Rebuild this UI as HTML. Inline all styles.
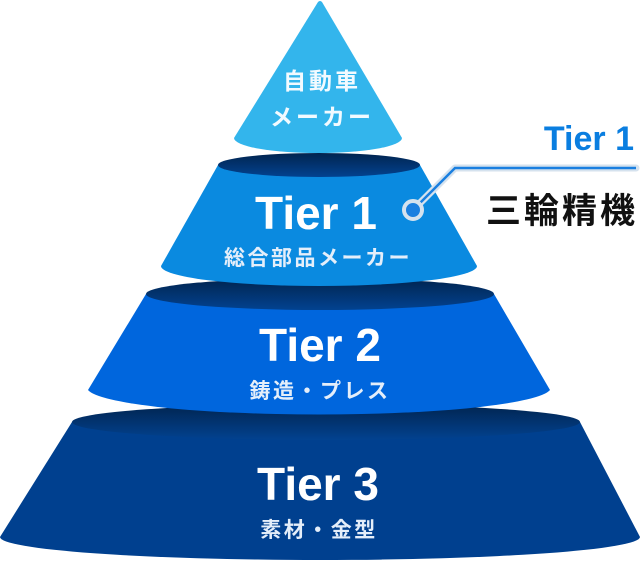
<!DOCTYPE html>
<html><head><meta charset="utf-8"><style>
html,body{margin:0;padding:0;background:#fff;width:640px;height:564px;overflow:hidden}
svg{display:block}
text{font-family:"Liberation Sans","Noto Sans CJK JP",sans-serif}
</style></head><body>
<svg width="640" height="564" viewBox="0 0 640 564" xmlns="http://www.w3.org/2000/svg">
<defs>
<linearGradient id="lid" x1="0" y1="0" x2="0" y2="1">
<stop offset="0" stop-color="#01244f"/><stop offset="1" stop-color="#024290"/>
</linearGradient>
</defs>
<path d="M72,422 L0,537 A320,23 0 0 0 640,537 L580,422 Z" fill="#00408f"/>
<ellipse cx="326" cy="422" rx="254" ry="18" fill="url(#lid)"/>
<path d="M146,294 L88,390 A232,27 0 0 0 550,390 L494,294 Z" fill="#0066dd"/>
<ellipse cx="320" cy="294" rx="174" ry="16" fill="url(#lid)"/>
<path d="M218,165 L161,266 A158,20 0 0 0 477,266 L420,165 Z" fill="#0a8ae0"/>
<ellipse cx="319" cy="165" rx="101" ry="12" fill="url(#lid)"/>
<path d="M318,2 Q320,0 322,2 L402,138 A84,15 0 0 1 234,138 Z" fill="#33b5ec"/>
<g fill="#fff" text-anchor="middle">
<text x="322" y="89" font-size="23" font-weight="bold" letter-spacing="3" fill="#f2faff">自動車</text>
<text x="322" y="125" font-size="23" font-weight="bold" letter-spacing="3" fill="#f2faff">メーカー</text>
<text x="316" y="229" font-size="46" font-weight="bold">Tier 1</text>
<text x="318" y="265" font-size="21" font-weight="bold" letter-spacing="2.5" fill="#e4eefa">総合部品メーカー</text>
<text x="320" y="361" font-size="46" font-weight="bold">Tier 2</text>
<text x="320" y="398" font-size="21" font-weight="bold" letter-spacing="2.5" fill="#e4eefa">鋳造・プレス</text>
<text x="318" y="500" font-size="46" font-weight="bold">Tier 3</text>
<text x="319" y="537" font-size="21" font-weight="bold" letter-spacing="2.5" fill="#e4eefa">素材・金型</text>
</g>
<polyline points="413,210 455,168 636,168" fill="none" stroke="#d5e2ee" stroke-width="7" stroke-linecap="round" stroke-linejoin="round"/>
<polyline points="413,210 455,168 636,168" fill="none" stroke="#1a7fe0" stroke-width="2.5"/>
<circle cx="413" cy="210" r="9" fill="#1a7fe0" stroke="#d5e2ee" stroke-width="4"/>
<text x="634" y="150" font-size="34" font-weight="bold" fill="#0a7ee0" text-anchor="end">Tier 1</text>
<text x="638" y="223" font-size="35" font-weight="bold" letter-spacing="3" fill="#111" text-anchor="end">三輪精機</text>
</svg>
</body></html>
